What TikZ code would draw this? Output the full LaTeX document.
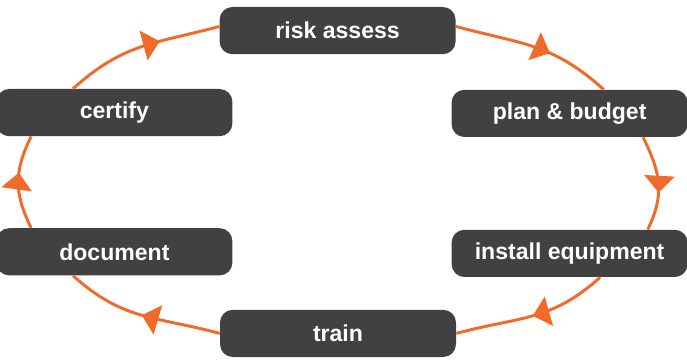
\documentclass[tikz,border=0pt]{standalone}
\usepackage{fontspec}
\setsansfont{Liberation Sans}
\usepackage{tikz}
\usetikzlibrary{arrows.meta,decorations.markings}

\begin{document}
\begin{tikzpicture}[
  box/.style={fill=boxGray, text=white, rounded corners=0.32cm,
    minimum width=5.9cm, minimum height=1.18cm, inner sep=0pt,
    font=\sffamily\bfseries\fontsize{16.4}{19}\selectfont},
  ring/.style={ringOrange, line width=2.1pt, looseness=1.1, postaction={decorate},
    decoration={markings, mark=at position #1 with
      {\arrow{Triangle[width=0.75cm,length=0.42cm]}}}},
  ring/.default=0.6
]

% Colori
\definecolor{boxGray}{HTML}{414042}
\definecolor{ringOrange}{HTML}{F26A2A}

% Cornice
\useasboundingbox (0,0) rectangle (17.175,8.975);

% Fasi
\node[box] (risk)     at (8.44,8.21)  {risk assess};
\node[box] (plan)     at (14.24,6.14) {plan \& budget};
\node[box] (install)  at (14.24,2.64) {install equipment};
\node[box] (train)    at (8.45,0.64)  {train};
\node[box] (document) at (2.86,2.68)  {document};
\node[box] (certify)  at (2.86,6.16)  {certify};

% Ciclo
\draw[ring] (risk.2)          to[out=-15,in=138]  (plan.35);
\draw[ring] (plan.-18)        to[out=-64,in=64]   (install.17);
\draw[ring=0.5] (install.-38) to[out=-138,in=15]  (train.east);
\draw[ring=0.5] (train.west)  to[out=165,in=-42]  (document.-150);
\draw[ring] (document.164)    to[out=116,in=-116] (certify.196);
\draw[ring=0.62] (certify.150) to[out=42,in=-165] (risk.178);
\end{tikzpicture}
\end{document}
